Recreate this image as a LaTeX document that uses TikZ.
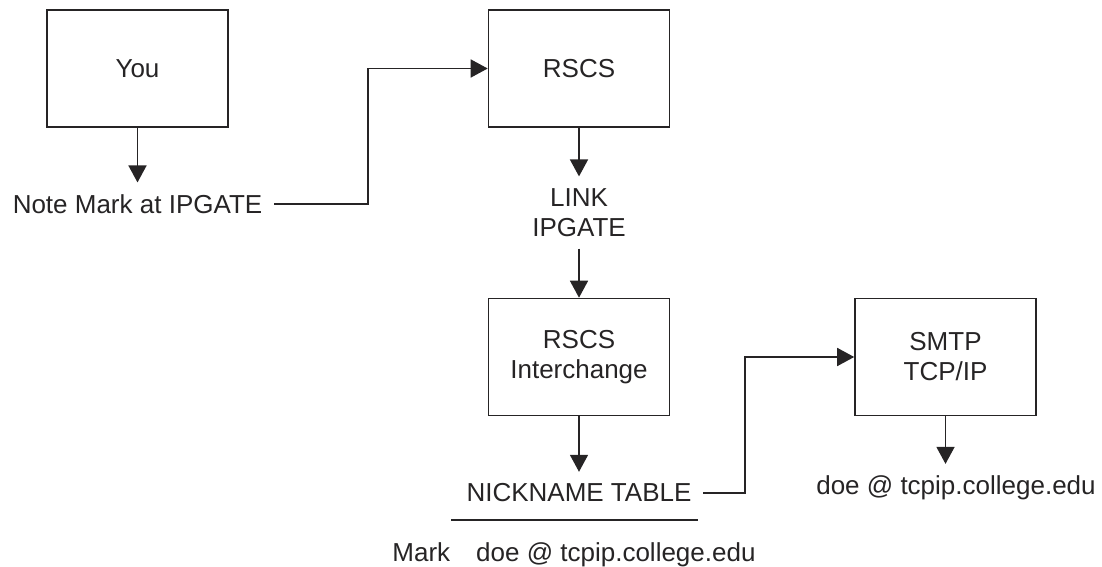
\documentclass[tikz,border=0pt]{standalone}
\usepackage{fontspec}
\setmainfont{Liberation Sans}
\usetikzlibrary{arrows.meta}
\definecolor{ink}{RGB}{38,36,37}
\begin{document}
\begin{tikzpicture}[x=0.5pt,y=-0.5pt,
    every node/.style={text=ink,font=\fontsize{13}{15}\selectfont},
    box/.style={draw=ink,line width=0.8pt,minimum width=90.5pt,minimum height=58.5pt,align=center},
    txt/.style={inner sep=0pt,outer sep=6pt,align=center},
    flow/.style={draw=ink,line width=0.8pt,-{Triangle[length=8.5pt,width=9pt]}}]
      \useasboundingbox (0,0) rectangle (1102,567);
      \path
        (137.5,68.5) node[box] (you){You}
        (579,68.5) node[box] (rscs){RSCS}
        (579,357) node[box] (inter){RSCS\\Interchange}
        (945.5,357) node[box] (smtp){SMTP\\TCP/IP}
        (137.5,204) node[txt] (note){Note Mark at IPGATE}
        (579,212.5) node[txt] (link){LINK\\IPGATE}
        (579,493) node[txt] (nick){NICKNAME TABLE}
        (574,555) node[txt] (entry){Mark\quad doe @ tcpip.college.edu}
        (956,488) node[txt] (addr){doe @ tcpip.college.edu};
      \coordinate (bendA) at (368,150);
      \coordinate (bendB) at (745,420);
      \coordinate (ruleL) at (451,520);
      \coordinate (ruleR) at (698,520);
      \begin{scope}[flow]
        \draw (you) to (you |- note.north);
        \draw (note.east) -| (bendA) |- (rscs.west);
        \draw (rscs) to (link);
        \draw (link) to (inter);
        \draw (inter) to (nick);
        \draw (nick.east) -| (bendB) |- (smtp.west);
        \draw (smtp) to (smtp |- addr.north);
      \end{scope}
      \draw[draw=ink,line width=0.8pt] (ruleL) -- (ruleR);
    \end{tikzpicture}
\end{document}
